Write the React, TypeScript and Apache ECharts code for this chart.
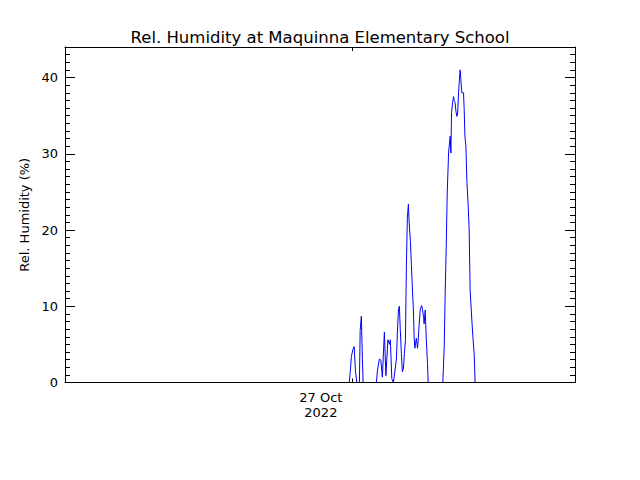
import React, { useEffect, useRef } from "react";
import * as echarts from "echarts";

// Time in hours relative to 27 Oct 2022 00:00
const hours = [
  -0.56, -0.24, -0.14, -0.05, 0.09, 0.22, 0.33, 0.47, 0.71, 0.78, 0.89, 0.99, 1.06,
  2.31, 2.4, 2.59, 2.73, 2.87, 3.06, 3.2, 3.39, 3.53, 3.62, 3.76, 3.91, 4.05, 4.19,
  4.28, 4.38, 4.47, 4.56, 4.66, 4.75, 4.85, 4.94, 5.04, 5.13, 5.22, 5.32, 5.39, 5.51,
  5.6, 5.69, 5.79, 5.86, 5.93, 6.07, 6.18, 6.24, 6.33, 6.43, 6.56, 6.65, 6.75, 6.8,
  6.9, 7.01, 7.12, 7.18,
  8.56, 8.59, 8.69, 8.78, 8.88, 8.97, 9.1, 9.25, 9.32, 9.38, 9.48, 9.57, 9.63, 9.72,
  9.79, 9.88, 9.95, 10.04, 10.1, 10.19, 10.26, 10.35, 10.51, 10.57, 10.64, 10.73,
  10.82, 10.95, 11.04, 11.13, 11.29, 11.39, 11.51, 11.6, 12.14,
];
const humidity = [
  0, 0, 1.6, 3.4, 4.3, 4.7, 1.6, 0, 0, 6.8, 8.7, 3.0, 0,
  0, 1.5, 3.1, 2.9, 0.7, 6.6, 0.9, 5.6, 5.0, 5.6, 0.5, 0, 1.5, 3.1,
  6.4, 9.5, 10.0, 6.8, 3.8, 1.4, 1.8, 3.8, 5.5, 15.2, 21.5, 23.4, 21.0, 18.5,
  15.5, 12.5, 9.5, 6.0, 4.5, 5.8, 4.5, 5.5, 7.5, 9.5, 10.1, 9.6, 8.5, 7.7,
  9.5, 5.5, 2.5, 0,
  0, 0, 4.6, 11.7, 17.8, 24.6, 30.1, 32.3, 30.1, 35.4, 36.7, 37.5, 37.0, 36.7,
  35.6, 34.9, 35.2, 38.0, 39.3, 41.0, 39.7, 38.0, 38.0, 35.8, 32.3, 31.0,
  26.6, 23.0, 20.0, 12.1, 8.2, 6.0, 3.8, 0, 0,
];
const xTickLabel = "27 Oct\n2022";
const titleText = "Rel. Humidity at Maquinna Elementary School";
const yName = "Rel. Humidity (%)";

export default function App() {
  const ref = useRef<HTMLDivElement>(null);
  useEffect(() => {
    if (!ref.current) return;
    const chart = echarts.init(ref.current, null, { renderer: "svg" });
    const font = "DejaVu Sans";
    const axisLine = { show: true, onZero: false, lineStyle: { color: "#000", width: 1 } };
    const xCommon = {
      type: "value" as const,
      min: -27,
      max: 21,
      interval: 27,
      z: 5,
      axisLine,
      splitLine: { show: false },
      axisTick: { show: true, inside: true, length: 4, lineStyle: { color: "#000" } },
    };
    const yCommon = {
      type: "value" as const,
      min: 0,
      max: 44,
      interval: 10,
      z: 5,
      axisLine,
      splitLine: { show: false },
      axisTick: { show: true, inside: true, length: 10, lineStyle: { color: "#000" } },
      minorTick: { show: true, splitNumber: 10, length: 5, lineStyle: { color: "#000" } },
    };
    chart.setOption({
      animation: false,
      backgroundColor: "#fff",
      title: {
        text: titleText,
        left: "center",
        top: 24,
        textStyle: { fontFamily: font, fontSize: 16.5, fontWeight: "normal", color: "#000" },
      },
      grid: { left: 65, right: 65, top: 47, bottom: 97.5, containLabel: false },
      xAxis: [
        {
          ...xCommon,
          position: "bottom",
          axisLabel: {
            show: true,
            fontFamily: font,
            fontSize: 13,
            color: "#000",
            lineHeight: 15,
            margin: 7,
            padding: [0, 62, 0, 0],
            formatter: (v: number) => (v === 0 ? xTickLabel : ""),
          },
        },
        {
          ...xCommon,
          position: "top",
          axisLabel: { show: false },
        },
      ],
      yAxis: [
        {
          ...yCommon,
          position: "left",
          name: yName,
          nameLocation: "middle",
          nameGap: 27,
          nameTextStyle: { fontFamily: font, fontSize: 13, color: "#000" },
          axisLabel: {
            show: true,
            fontFamily: font,
            fontSize: 13,
            color: "#000",
            margin: 7,
            showMaxLabel: false,
          },
        },
        {
          ...yCommon,
          position: "right",
          axisLabel: { show: false },
        },
      ],
      series: [
        {
          type: "line",
          xAxisIndex: 0,
          yAxisIndex: 0,
          z: 2,
          showSymbol: false,
          symbol: "none",
          clip: true,
          lineStyle: { color: "#0000ff", width: 1 },
          data: hours.map((h, i) => [h, humidity[i]]),
        },
      ],
    });
    return () => chart.dispose();
  }, []);
  return (
    <div
      ref={ref}
      style={{ position: "fixed", left: 0, top: 0, width: 640, height: 480, background: "#fff" }}
    />
  );
}
